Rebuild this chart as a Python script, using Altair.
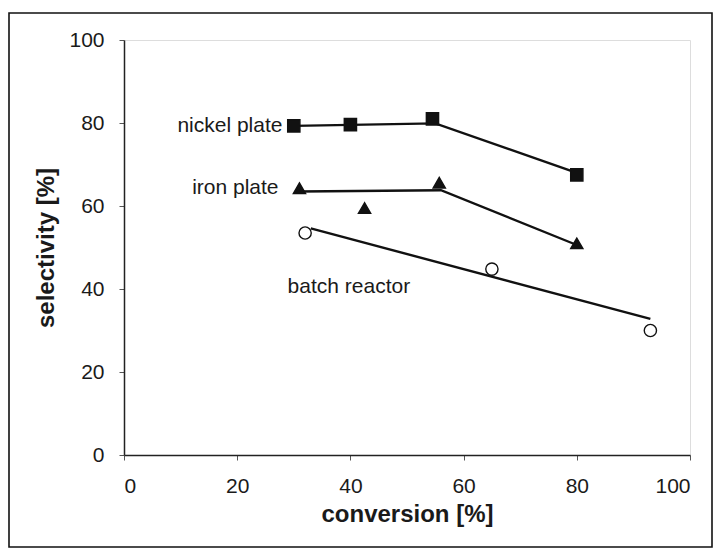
import altair as alt
import pandas as pd

# measured points
nickel_x = [30, 40, 54.5, 80]
nickel_y = [79.3, 79.6, 81.0, 67.5]
iron_x = [31, 42.5, 55.7, 80]
iron_y = [64.3, 59.5, 65.6, 51.0]
batch_x = [32, 65, 93]
batch_y = [53.5, 44.8, 30.0]

# trend lines
nickel_fit_x = [30, 55, 80]
nickel_fit_y = [79.3, 79.9, 68.0]
iron_fit_x = [31, 56, 80]
iron_fit_y = [63.5, 63.8, 50.6]
batch_fit_x = [33, 93]
batch_fit_y = [54.6, 32.8]

# labels
label_text = ["nickel plate", "iron plate", "batch reactor"]
label_x = [28.0, 27.3, 28.9]
label_y = [79.3, 64.3, 40.6]
label_align = ["right", "right", "left"]

pts = pd.concat([
    pd.DataFrame({"x": nickel_x, "y": nickel_y, "s": "nickel"}),
    pd.DataFrame({"x": iron_x, "y": iron_y, "s": "iron"}),
    pd.DataFrame({"x": batch_x, "y": batch_y, "s": "batch"}),
])
fits = pd.concat([
    pd.DataFrame({"x": nickel_fit_x, "y": nickel_fit_y, "s": "nickel"}),
    pd.DataFrame({"x": iron_fit_x, "y": iron_fit_y, "s": "iron"}),
    pd.DataFrame({"x": batch_fit_x, "y": batch_fit_y, "s": "batch"}),
])
labels = pd.DataFrame({"t": label_text, "x": label_x, "y": label_y, "a": label_align})

xs = alt.Scale(domain=[0, 100], nice=False)
ys = alt.Scale(domain=[0, 100], nice=False)
xax = alt.Axis(values=[0, 20, 40, 60, 80, 100], grid=False, title="conversion [%]",
               labelFontSize=21, titleFontSize=24, titleFontWeight="bold",
               labelPadding=15, titlePadding=6, tickSize=5, domainColor="#222",
               domainWidth=1.5, tickColor="#555", labelColor="#1a1a1a",
               titleColor="#1a1a1a")
yax = alt.Axis(values=[0, 20, 40, 60, 80, 100], grid=False, title="selectivity [%]",
               labelFontSize=21, titleFontSize=24, titleFontWeight="bold",
               labelPadding=15, titlePadding=10, tickSize=5, domainColor="#222",
               domainWidth=1.5, tickColor="#555", labelColor="#1a1a1a",
               titleColor="#1a1a1a")

X = alt.X("x:Q", scale=xs, axis=xax)
Y = alt.Y("y:Q", scale=ys, axis=yax)

lines = alt.Chart(fits).mark_line(color="#111", strokeWidth=2.4).encode(
    x=X, y=Y, detail="s:N")

shape_scale = alt.Scale(domain=["nickel", "iron", "batch"],
                        range=["square", "triangle-up", "circle"])
fill_scale = alt.Scale(domain=["nickel", "iron", "batch"],
                       range=["#111", "#111", "white"])

markers = alt.Chart(pts).mark_point(filled=True, size=150, stroke="#111",
                                    strokeWidth=1.4, opacity=1).encode(
    x=X, y=Y,
    shape=alt.Shape("s:N", scale=shape_scale, legend=None),
    fill=alt.Fill("s:N", scale=fill_scale, legend=None),
)

text_r = alt.Chart(labels[labels.a == "right"]).mark_text(
    align="right", baseline="middle", fontSize=21, color="#1a1a1a",
    font="Liberation Sans").encode(x=X, y=Y, text="t:N")
text_l = alt.Chart(labels[labels.a == "left"]).mark_text(
    align="left", baseline="middle", fontSize=21, color="#1a1a1a",
    font="Liberation Sans").encode(x=X, y=Y, text="t:N")

frame = alt.Chart(pd.DataFrame({"a": [0]})).mark_rect(
    fill=None, stroke="#111", strokeWidth=1.6).encode(
    x=alt.value(-115), x2=alt.value(588), y=alt.value(-27), y2=alt.value(507))

chart = alt.layer(frame, lines, markers, text_r, text_l).properties(
    width=566, height=415,
    autosize=alt.AutoSizeParams(type="none"),
    padding={"left": 124, "top": 40, "right": 30, "bottom": 95},
).configure_view(stroke="#222", strokeWidth=1.5).configure(
    font="Liberation Sans", background="white")

chart.save("out.html", embed_options={"renderer": "svg", "actions": False})
